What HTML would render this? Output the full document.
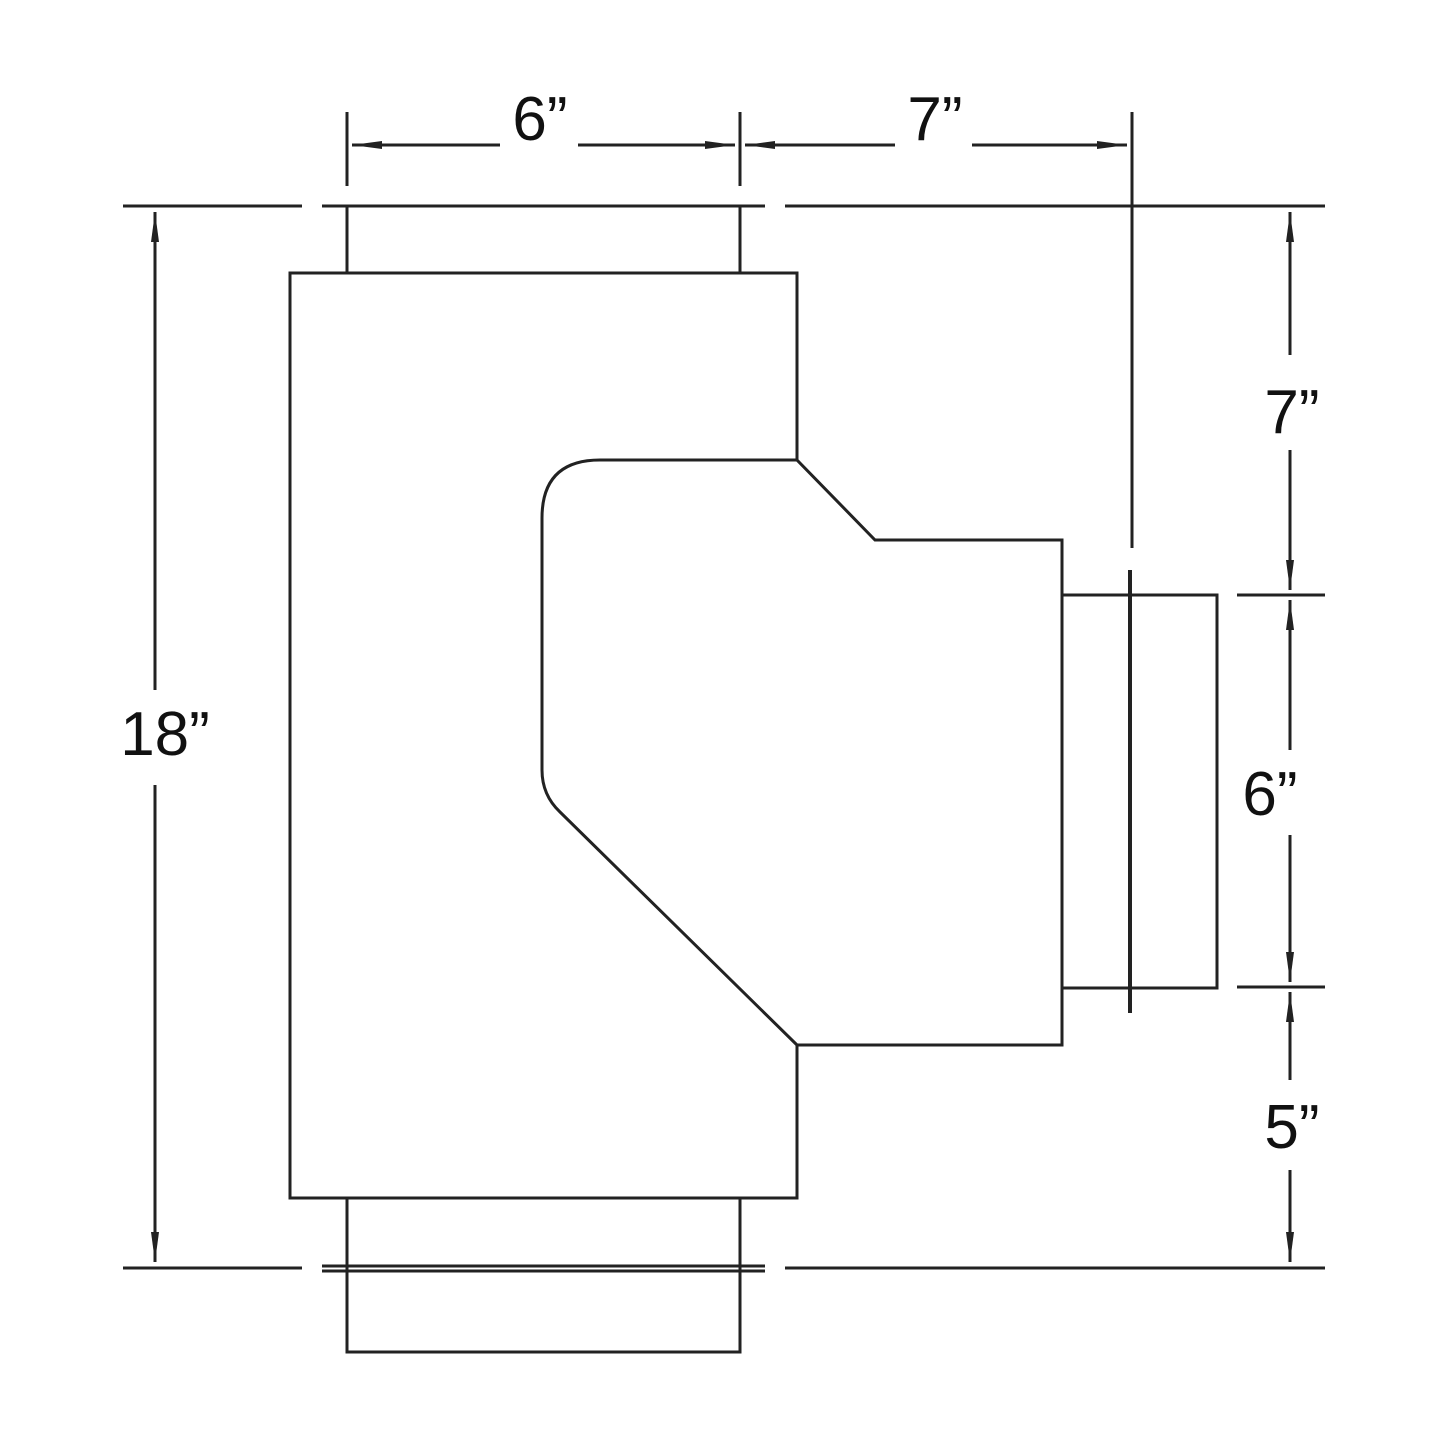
<!DOCTYPE html>
<html><head><style>body{margin:0;background:#fff}</style></head><body>
<svg width="1445" height="1445" viewBox="0 0 1445 1445" xmlns="http://www.w3.org/2000/svg" style="display:block">
<defs>
<marker id="a" viewBox="0 0 30 10" refX="30" refY="5" markerWidth="30" markerHeight="10" markerUnits="userSpaceOnUse" orient="auto-start-reverse">
<path d="M0,1 L30,5 L0,9 Z" fill="#222"/></marker>
</defs>
<g stroke="#222" stroke-width="3" fill="none">
<!-- extension lines top -->
<line x1="347" y1="112" x2="347" y2="186"/>
<line x1="740" y1="112" x2="740" y2="186"/>
<line x1="1132" y1="112" x2="1132" y2="548"/>
<!-- horizontal reference lines -->
<line x1="123" y1="206" x2="302" y2="206"/>
<line x1="322" y1="206" x2="765" y2="206"/>
<line x1="785" y1="206" x2="1325" y2="206"/>
<line x1="123" y1="1268" x2="302" y2="1268"/>
<line x1="322" y1="1266" x2="765" y2="1266"/>
<line x1="785" y1="1268" x2="1325" y2="1268"/>
<line x1="1237" y1="595" x2="1325" y2="595"/>
<line x1="1237" y1="987" x2="1325" y2="987"/>
<!-- top collar -->
<line x1="347" y1="206" x2="347" y2="273"/>
<line x1="740" y1="206" x2="740" y2="273"/>
<!-- body -->
<path d="M290,273 H797 V460 L875,540 H1062 V1045 H797 V1198 H290 Z"/>
<path d="M797,460 H600 Q542,460 542,518 V770 Q542,795 560,812 L797,1045"/>
<!-- bottom collar -->
<path d="M347,1198 V1352 H740 V1198"/>
<line x1="322" y1="1271" x2="765" y2="1271"/>
<!-- right collar -->
<path d="M1062,595 H1217 V988 H1062"/>
<line x1="1130" y1="570" x2="1130" y2="1013" stroke-width="4"/>
</g>
<g stroke="#222" stroke-width="3">
<line x1="500" y1="145" x2="352" y2="145" marker-end="url(#a)"/>
<line x1="578" y1="145" x2="735" y2="145" marker-end="url(#a)"/>
<line x1="895" y1="145" x2="745" y2="145" marker-end="url(#a)"/>
<line x1="972" y1="145" x2="1127" y2="145" marker-end="url(#a)"/>
<line x1="155" y1="690" x2="155" y2="212" marker-end="url(#a)"/>
<line x1="155" y1="785" x2="155" y2="1262" marker-end="url(#a)"/>
<line x1="1290" y1="355" x2="1290" y2="212" marker-end="url(#a)"/>
<line x1="1290" y1="450" x2="1290" y2="590" marker-end="url(#a)"/>
<line x1="1290" y1="750" x2="1290" y2="600" marker-end="url(#a)"/>
<line x1="1290" y1="835" x2="1290" y2="982" marker-end="url(#a)"/>
<line x1="1290" y1="1080" x2="1290" y2="992" marker-end="url(#a)"/>
<line x1="1290" y1="1170" x2="1290" y2="1262" marker-end="url(#a)"/>
</g>
<g font-family="Liberation Sans, sans-serif" font-size="62" fill="#111" text-anchor="middle">
<text x="540" y="140">6”</text>
<text x="935" y="140">7”</text>
<text x="165" y="755">18”</text>
<text x="1292" y="433">7”</text>
<text x="1270" y="815">6”</text>
<text x="1292" y="1148">5”</text>
</g>
</svg>
</body></html>
